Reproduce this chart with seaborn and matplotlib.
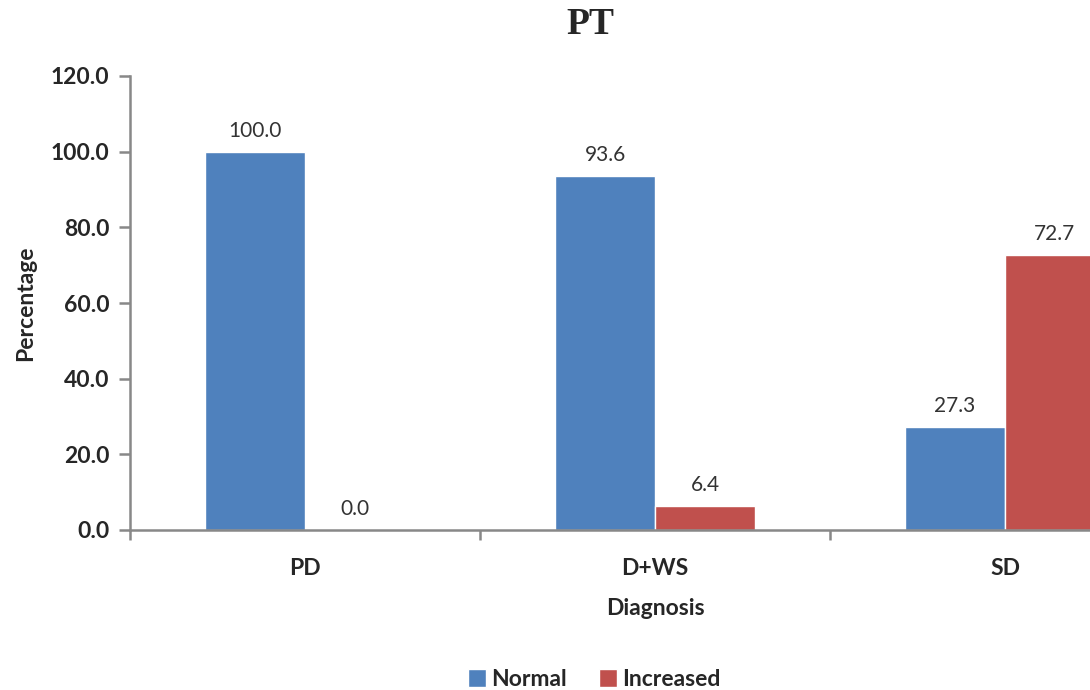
import matplotlib
matplotlib.use("Agg")
import matplotlib.pyplot as plt
import seaborn as sns
import pandas as pd

categories = ["PD", "D+WS", "SD"]
series_names = ["Normal", "Increased"]
normal = [100.0, 93.6, 27.3]
increased = [0.0, 6.4, 72.7]
y_ticks = [0, 20, 40, 60, 80, 100, 120]

colors = ["#4F81BD", "#C0504D"]

sns.set_theme(style="white")
plt.rcParams["font.family"] = ["Lato", "DejaVu Sans"]

BOLD = "bold"

df = pd.DataFrame({
    "Diagnosis": categories * 2,
    "Series": [series_names[0]] * 3 + [series_names[1]] * 3,
    "Percentage": normal + increased,
})

fig = plt.figure(figsize=(10.9, 6.9), dpi=100)
ax = fig.add_axes([130 / 1090, 160 / 690, 1050 / 1090, 454 / 690])

sns.barplot(data=df, x="Diagnosis", y="Percentage", hue="Series",
            order=categories, hue_order=series_names, palette=colors,
            width=0.5714, gap=0, saturation=1, ax=ax, legend=True)

for cont in ax.containers:
    ax.bar_label(cont, fmt="%.1f", padding=8, fontsize=15,
                 color="#333333", family="Lato")

ax.set_xlim(-0.5, 2.5)
ax.set_ylim(0, 120)
ax.set_yticks(y_ticks)
ax.set_yticklabels([f"{v:.1f}" for v in y_ticks], fontsize=16.5, fontweight=BOLD)
ax.set_xticks(range(len(categories)))
ax.set_xticklabels(categories, fontsize=16.5, fontweight=BOLD)
ax.set_xticks([-0.5, 0.5, 1.5, 2.5], minor=True)
ax.tick_params(axis="x", which="major", bottom=True, length=0, pad=20)
ax.tick_params(axis="x", which="minor", bottom=True, length=7, width=1.8,
               color="#888888", direction="out")
ax.tick_params(axis="y", which="major", left=True, length=8, width=1.8,
               color="#888888", direction="out", pad=7)

for side in ["top", "right"]:
    ax.spines[side].set_visible(False)
for side in ["left", "bottom"]:
    ax.spines[side].set_color("#888888")
    ax.spines[side].set_linewidth(1.8)

ax.set_xlabel("Diagnosis", fontsize=16.5, fontweight=BOLD, labelpad=14)
ax.set_ylabel("Percentage", fontsize=16.5, fontweight=BOLD, labelpad=10)

fig.suptitle("PT", x=590 / 1090, y=0.99,
             fontsize=27, fontweight="bold", family="Liberation Serif")

handles, labels = ax.get_legend_handles_labels()
ax.legend_.remove()
leg = fig.legend(handles, labels, loc="lower center", bbox_to_anchor=(0.545, -0.03),
                 ncol=2, frameon=False, fontsize=16.5, handlelength=0.8,
                 handleheight=0.8, handletextpad=0.2, columnspacing=1.4)
for t in leg.get_texts():
    t.set_fontweight(BOLD)

fig.savefig("out.png", dpi=100)
